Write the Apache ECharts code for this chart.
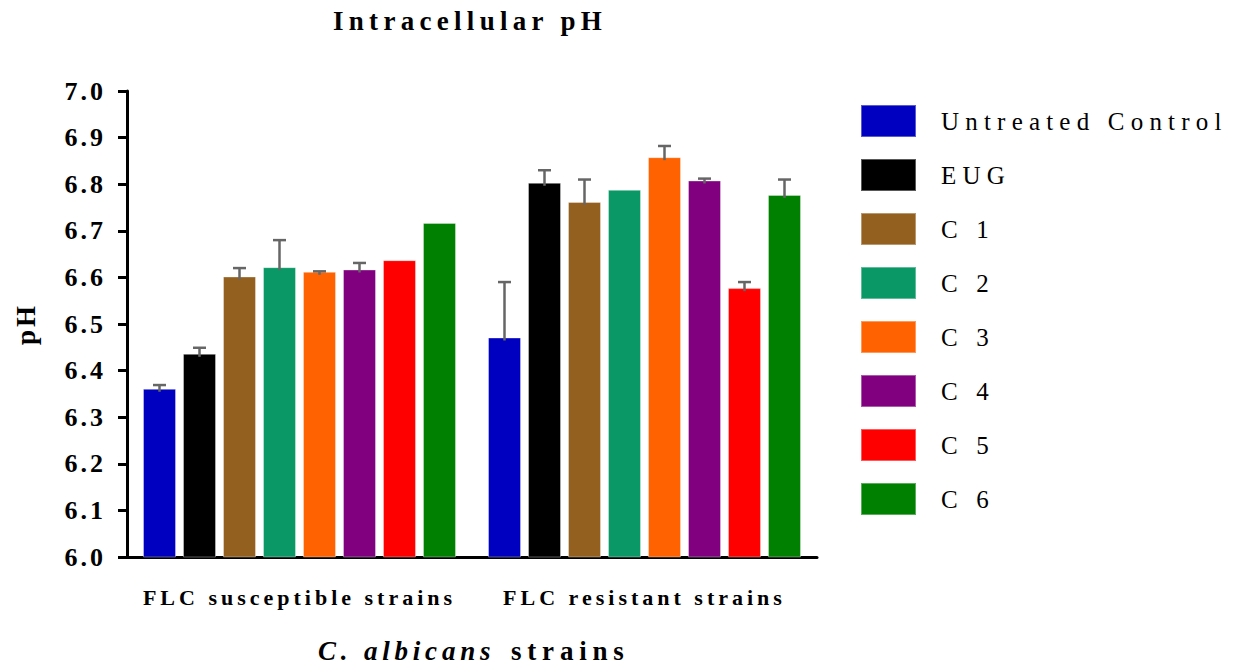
<!DOCTYPE html>
<html>
<head>
<meta charset="utf-8">
<script src="https://cdn.jsdelivr.net/npm/echarts@6/dist/echarts.min.js"></script>
<style>
  html, body { margin: 0; padding: 0; background: #fff; }
  #chart { width: 1236px; height: 671px; }
</style>
</head>
<body>
<div id="chart"></div>
<script>
// Strain groups on the x axis
const categories = ['FLC susceptible strains', 'FLC resistant strains'];

// Treatments (one bar series each)
const treatments = ['Untreated Control', 'EUG', 'C 1', 'C 2', 'C 3', 'C 4', 'C 5', 'C 6'];
const colors = ['#0000C0', '#000000', '#936020', '#0A9966', '#FF6200', '#800080', '#FF0000', '#008000'];

// Mean intracellular pH per treatment
const susceptibleMean = [6.361, 6.436, 6.602, 6.622, 6.612, 6.617, 6.637, 6.717];
const resistantMean   = [6.471, 6.803, 6.762, 6.788, 6.858, 6.808, 6.577, 6.777];

// Upper error (SD) per treatment
const susceptibleErr = [0.008, 0.013, 0.018, 0.058, 0.001, 0.014, 0, 0];
const resistantErr   = [0.119, 0.027, 0.048, 0, 0.024, 0.004, 0.013, 0.033];

// y axis ticks
const yMin = 6.0, yMax = 7.0, yStep = 0.1;

const BAR_W = 33, BAR_GAP = 7;
const SERIF = "'Liberation Serif', 'Times New Roman', serif";

const barSeries = treatments.map((name, i) => ({
  name: name,
  type: 'bar',
  data: [susceptibleMean[i], resistantMean[i]],
  barWidth: BAR_W,
  barGap: (BAR_GAP / BAR_W * 100).toFixed(1) + '%',
  itemStyle: { color: colors[i], borderColor: 'rgba(255,255,255,0.35)', borderWidth: 1 },
  z: 2
}));

// error bar items: [category index, mean, upper error, treatment index]
const errorItems = [];
treatments.forEach((_, i) => {
  errorItems.push([0, susceptibleMean[i], susceptibleErr[i], i]);
  errorItems.push([1, resistantMean[i], resistantErr[i], i]);
});

const errorSeries = {
  name: 'SD',
  type: 'custom',
  data: errorItems,
  z: 5,
  silent: true,
  renderItem: function (params, api) {
    const cat = api.value(0), mean = api.value(1), err = api.value(2), idx = api.value(3);
    if (!(err > 0)) return null;
    const n = treatments.length;
    const offset = (idx - (n - 1) / 2) * (BAR_W + BAR_GAP);
    const base = api.coord([cat, mean]);
    const top = api.coord([cat, mean + err]);
    const x = base[0] + offset;
    const style = { stroke: '#666666', lineWidth: 2.5 };
    return {
      type: 'group',
      children: [
        { type: 'line', shape: { x1: x, y1: base[1] + 3, x2: x, y2: top[1] }, style: style },
        { type: 'line', shape: { x1: x - 6.5, y1: top[1], x2: x + 6.5, y2: top[1] }, style: style }
      ]
    };
  }
};

const chart = echarts.init(document.getElementById('chart'), null, { renderer: 'svg' });

chart.setOption({
  animation: false,
  backgroundColor: '#ffffff',
  title: {
    text: 'Intracellular pH',
    left: 470,
    textAlign: 'center',
    top: 7,
    padding: 0,
    textStyle: { fontFamily: SERIF, fontWeight: 'bold', fontSize: 27, color: '#000' }
  },
  legend: {
    orient: 'vertical',
    left: 860,
    top: 104,
    padding: 0,
    itemWidth: 55,
    itemHeight: 32,
    itemGap: 20,
    icon: 'rect',
    data: treatments,
    textStyle: { fontFamily: SERIF, fontSize: 25, color: '#000', padding: [0, 0, 0, 20] }
  },
  grid: { left: 127, right: 419, top: 91, bottom: 114, containLabel: false },
  xAxis: {
    type: 'category',
    data: categories,
    name: '{i|C. albicans}{b|strains}',
    nameLocation: 'middle',
    nameGap: 80,
    nameTextStyle: {
      rich: {
        i: { fontFamily: SERIF, fontStyle: 'italic', fontWeight: 'bold', fontSize: 27, color: '#000', width: 193, align: 'left' },
        b: { fontFamily: SERIF, fontWeight: 'bold', fontSize: 27, color: '#000', width: 115, align: 'left' }
      }
    },
    axisLine: { lineStyle: { color: '#000', width: 3 } },
    axisTick: { alignWithLabel: true, length: 9, lineStyle: { color: '#000', width: 3 } },
    axisLabel: { fontFamily: SERIF, fontWeight: 'bold', fontSize: 22, color: '#000', margin: 29 },
    splitLine: { show: false }
  },
  yAxis: {
    type: 'value',
    min: yMin,
    max: yMax,
    interval: yStep,
    name: 'pH',
    nameLocation: 'middle',
    nameRotate: 90,
    nameGap: 88,
    nameTextStyle: { fontFamily: SERIF, fontWeight: 'bold', fontSize: 27, color: '#000' },
    axisLine: { show: true, lineStyle: { color: '#000', width: 3 } },
    axisTick: { show: true, length: 9, lineStyle: { color: '#000', width: 3 } },
    axisLabel: {
      fontFamily: SERIF, fontWeight: 'bold', fontSize: 26, color: '#000', margin: 21,
      formatter: v => v.toFixed(1)
    },
    splitLine: { show: false }
  },
  series: barSeries.concat([errorSeries])
});

// Letter spacing for the wide-set lettering
function spacingFor(txt) {
  if (txt === 'Intracellular pH') return 5.3;
  if (treatments.indexOf(txt) >= 0) return 6.2;
  if (categories.indexOf(txt) >= 0) return 4;
  if (txt === 'C. albicans') return 4.8;
  if (txt === 'strains') return 5.8;
  if (/^\d\.\d$/.test(txt)) return 3;
  if (txt === 'pH') return 3;
  return 0;
}
function applySpacing() {
  document.querySelectorAll('#chart text').forEach(t => {
    const ls = spacingFor((t.textContent || '').trim());
    if (ls) t.style.letterSpacing = ls + 'px';
  });
}
chart.on('finished', applySpacing);
setTimeout(applySpacing, 0);
</script>
</body>
</html>
